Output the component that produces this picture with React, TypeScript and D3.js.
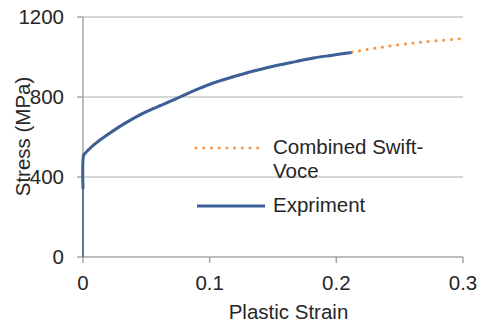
import { useMemo } from 'react'
import * as d3 from 'd3'

// Experiment (plastic part)
const expStrain = [0, 0.0005, 0.0016, 0.005, 0.01, 0.0213, 0.033, 0.045, 0.057, 0.0687, 0.0766, 0.09, 0.1029, 0.116, 0.129, 0.142, 0.1555, 0.168, 0.1818, 0.197, 0.212]
const expStress = [340, 508, 518, 540, 568, 620, 668, 711, 746, 778, 800, 838, 870, 896, 920, 941, 961, 977, 995, 1009, 1023]

// elastic portion along the axis
const elasticStrain = [0, 0]
const elasticStress = [0, 345]

// Combined Swift-Voce fit
const fitStrain = [0, 0.0016, 0.005, 0.01, 0.0213, 0.033, 0.045, 0.057, 0.0687, 0.0766, 0.09, 0.1029, 0.116, 0.129, 0.142, 0.1555, 0.168, 0.1818, 0.197, 0.212, 0.23, 0.25, 0.27, 0.2976, 0.3]
const fitStress = [508, 520, 541, 570, 622, 669, 712, 747, 778, 800, 838, 869, 896, 920, 941, 961, 978, 995, 1010, 1024, 1043, 1061, 1076, 1091, 1093]

const xTicks = [0, 0.1, 0.2, 0.3]
const yTicks = [0, 400, 800, 1200]

const FONT = '"Liberation Sans", Arial, sans-serif'
const FS = 20.5

export default function App() {
  const width = 480
  const height = 327
  const margin = { top: 17, right: 17, bottom: 70, left: 83 }
  const innerW = width - margin.left - margin.right
  const innerH = height - margin.top - margin.bottom

  const x = useMemo(() => d3.scaleLinear().domain([0, 0.3]).range([0, innerW]), [innerW])
  const y = useMemo(() => d3.scaleLinear().domain([0, 1200]).range([innerH, 0]), [innerH])

  const line = d3.line<[number, number]>().x(d => x(d[0])).y(d => y(d[1])).curve(d3.curveCatmullRom.alpha(0.5))
  const straight = d3.line<[number, number]>().x(d => x(d[0])).y(d => y(d[1]))

  const expPts = expStrain.map((s, i) => [s, expStress[i]] as [number, number])
  const fitPts = fitStrain.map((s, i) => [s, fitStress[i]] as [number, number])
  const elPts = elasticStrain.map((s, i) => [s, elasticStress[i]] as [number, number])

  const blue = '#3B6099'
  const orange = '#F79646'
  const grid = '#C8C8C8'
  const axisCol = '#A6A6A6'
  const txt = '#262626'

  return (
    <svg width={width} height={height} style={{ position: 'absolute', left: 0, top: 0, background: '#fff' }}>
      <g transform={`translate(${margin.left},${margin.top})`} fontFamily={FONT}>
        {yTicks.filter(t => t > 0).map(t => (
          <line key={'g' + t} x1={0} x2={innerW} y1={y(t)} y2={y(t)} stroke={grid} strokeWidth={1.5} />
        ))}
        {/* axes */}
        <line x1={0} x2={0} y1={0} y2={innerH} stroke={axisCol} strokeWidth={1.5} />
        <line x1={0} x2={innerW} y1={innerH} y2={innerH} stroke={axisCol} strokeWidth={1.5} />
        {yTicks.map(t => (
          <g key={'y' + t}>
            <line x1={-6} x2={0} y1={y(t)} y2={y(t)} stroke={axisCol} strokeWidth={1.5} />
            <text x={-19} y={y(t)} dy="0.35em" textAnchor="end" fontSize={FS} fill={txt}>{t}</text>
          </g>
        ))}
        {xTicks.map(t => (
          <g key={'x' + t}>
            <line x1={x(t)} x2={x(t)} y1={innerH} y2={innerH + 6} stroke={axisCol} strokeWidth={1.5} />
            <text x={x(t)} y={innerH + 25.5} dy="0.35em" textAnchor="middle" fontSize={FS} fill={txt}>{t}</text>
          </g>
        ))}

        {/* series */}
        <path d={line(fitPts) ?? ''} fill="none" stroke={orange} strokeWidth={3} strokeDasharray="0.1 7.6" strokeLinecap="round" />
        <path d={straight(elPts) ?? ''} fill="none" stroke={blue} strokeWidth={1.5} />
        <path d={line(expPts) ?? ''} fill="none" stroke={blue} strokeWidth={3} strokeLinejoin="round" />

        {/* legend */}
        <line x1={113} x2={177} y1={131} y2={131} stroke={orange} strokeWidth={3} strokeDasharray="0.1 7.6" strokeLinecap="round" />
        <text x={190} y={130} dy="0.35em" fontSize={FS} fill={txt}>Combined Swift-</text>
        <text x={190} y={154} dy="0.35em" fontSize={FS} fill={txt}>Voce</text>
        <line x1={114} x2={182} y1={189} y2={189} stroke={blue} strokeWidth={3} />
        <text x={190} y={188} dy="0.35em" fontSize={FS} fill={txt}>Expriment</text>

        {/* axis titles */}
        <text x={205.5} y={innerH + 54.5} dy="0.35em" textAnchor="middle" fontSize={FS} fill={txt}>Plastic Strain</text>
        <text transform={`translate(${-60},${119.5}) rotate(-90)`} dy="0.35em" textAnchor="middle" fontSize={FS} fill={txt}>Stress (MPa)</text>
      </g>
    </svg>
  )
}
